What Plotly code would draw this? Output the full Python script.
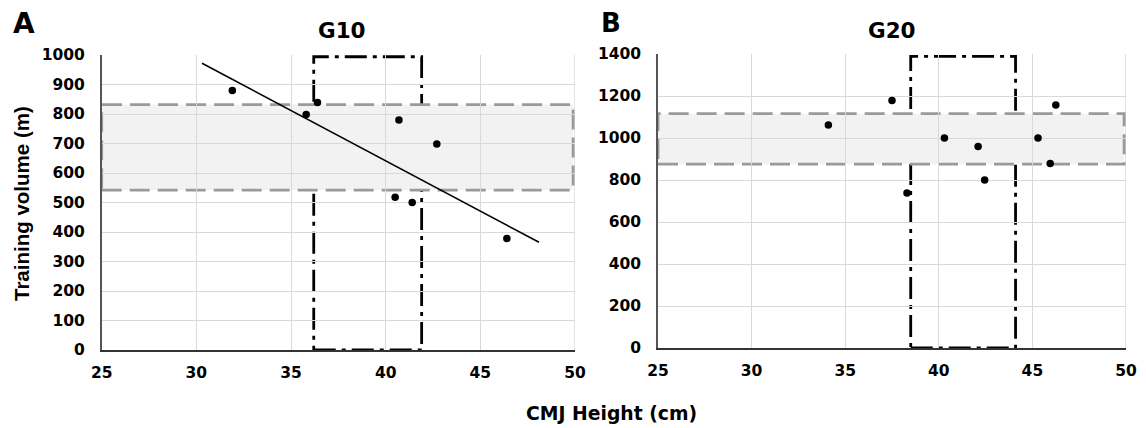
import plotly.graph_objects as go

# ---------------- data ----------------
g10_x = [31.9, 35.8, 36.4, 40.7, 42.7, 40.5, 41.4, 46.4]
g10_y = [880, 798, 839, 780, 698, 518, 500, 378]
g10_trend_x = [30.3, 48.1]
g10_trend_y = [972, 365]
g10_band_y = [542, 832]          # grey dashed band (y range)
g10_band_x = [25, 49.9]
g10_box_x = [36.2, 41.9]         # black dash-dot box (x range)
g10_box_y = [0, 994]

g20_x = [34.1, 37.5, 38.3, 40.3, 42.1, 42.45, 45.3, 45.95, 46.25]
g20_y = [1062, 1179, 738, 1000, 960, 800, 1000, 878, 1157]
g20_band_y = [876, 1116]
g20_band_x = [25, 49.9]
g20_box_x = [38.5, 44.1]
g20_box_y = [0, 1389]

x_range = [25, 50]
x_ticks = [25, 30, 35, 40, 45, 50]
g10_y_range = [0, 1000]
g10_y_ticks = list(range(0, 1001, 100))
g20_y_range = [0, 1400]
g20_y_ticks = list(range(0, 1401, 200))

titles = ["G10", "G20"]
panel_letters = ["A", "B"]
x_title = "CMJ Height (cm)"
y_title = "Training volume (m)"

# ---------------- figure ----------------
OFF = 8  # page body margin offset
W, H = 1146 - OFF, 428 - OFF
FONT = "DejaVu Sans, sans-serif"
FONT_V = "Arial, Liberation Sans, sans-serif"

def px_x(v):
    return (v - OFF) / W

def px_y(v):
    return 1 - (v - OFF) / H

fig = go.Figure()

fig.add_trace(go.Scatter(x=g10_x, y=g10_y, mode="markers",
                         marker=dict(color="black", size=7.5),
                         xaxis="x", yaxis="y", showlegend=False))
fig.add_trace(go.Scatter(x=g10_trend_x, y=g10_trend_y, mode="lines",
                         line=dict(color="black", width=1.6),
                         xaxis="x", yaxis="y", showlegend=False))
fig.add_trace(go.Scatter(x=g20_x, y=g20_y, mode="markers",
                         marker=dict(color="black", size=7.5),
                         xaxis="x2", yaxis="y2", showlegend=False))

tickfont = dict(family=FONT, size=15.5, color="black", weight="bold")
grid = "#d9d9d9"

common_x = dict(range=x_range, tickvals=x_ticks, showgrid=True, gridcolor=grid,
                gridwidth=1, zeroline=False, showline=True, linecolor="#333333",
                linewidth=2.2, ticks="", tickfont=tickfont, ticklabelstandoff=7,
                mirror=False, automargin=False, fixedrange=True)
common_y = dict(showgrid=True, gridcolor=grid, gridwidth=1, zeroline=False,
                showline=True, linecolor="#555555", linewidth=1.5, ticks="",
                tickfont=tickfont, ticklabelstandoff=12, automargin=False,
                fixedrange=True)

fig.update_layout(
    width=W, height=H,
    margin=dict(l=0, r=0, t=0, b=0),
    paper_bgcolor="white", plot_bgcolor="white",
    template="none",
    xaxis=dict(common_x, domain=[px_x(101.7), px_x(575)], anchor="y"),
    yaxis=dict(common_y, range=g10_y_range, tickvals=g10_y_ticks,
               domain=[px_y(350), px_y(55)], anchor="x"),
    xaxis2=dict(common_x, domain=[px_x(658), px_x(1126)], anchor="y2"),
    yaxis2=dict(common_y, range=g20_y_range, tickvals=g20_y_ticks,
                domain=[px_y(348), px_y(54)], anchor="x2"),
)

# right edge light grid line (x=50)
for xr, yr, yrange in (("x", "y", g10_y_range), ("x2", "y2", g20_y_range)):
    fig.add_shape(type="line", xref=xr, yref=yr, x0=x_range[1], x1=x_range[1],
                  y0=yrange[0], y1=yrange[1], line=dict(color=grid, width=1.5),
                  layer="below")

boxdash = "22px,6px,4px,6px"
banddash = "20px,8px"
for xr, yr, bx, by, gx, gy in (
        ("x", "y", g10_box_x, g10_box_y, g10_band_x, g10_band_y),
        ("x2", "y2", g20_box_x, g20_box_y, g20_band_x, g20_band_y)):
    fig.add_shape(type="rect", xref=xr, yref=yr, x0=bx[0], x1=bx[1],
                  y0=by[0], y1=by[1],
                  line=dict(color="black", width=2.8, dash=boxdash),
                  fillcolor="rgba(0,0,0,0)", layer="below")
    fig.add_shape(type="rect", xref=xr, yref=yr, x0=gx[0], x1=gx[1],
                  y0=gy[0], y1=gy[1],
                  line=dict(color="#9a9a9a", width=2.8, dash=banddash),
                  fillcolor="#f2f2f2", layer="below")

def label(text, x, y, size, family=FONT, angle=0):
    return dict(text=text, x=px_x(x), y=px_y(y), xref="paper", yref="paper",
                showarrow=False, xanchor="center", yanchor="middle", textangle=angle,
                font=dict(family=family, size=size, color="black", weight="bold"))

ann = [
    label(titles[0], 342, 30, 21.5),
    label(titles[1], 892, 30, 21.5),
    label(panel_letters[0], 24, 24, 28),
    label(panel_letters[1], 611, 23, 26),
    label(x_title, 611, 413, 18.8),
    label(y_title, 21, 204, 20.5, family=FONT_V, angle=-90),
]
fig.update_layout(annotations=ann)

fig.write_html("out.html")
